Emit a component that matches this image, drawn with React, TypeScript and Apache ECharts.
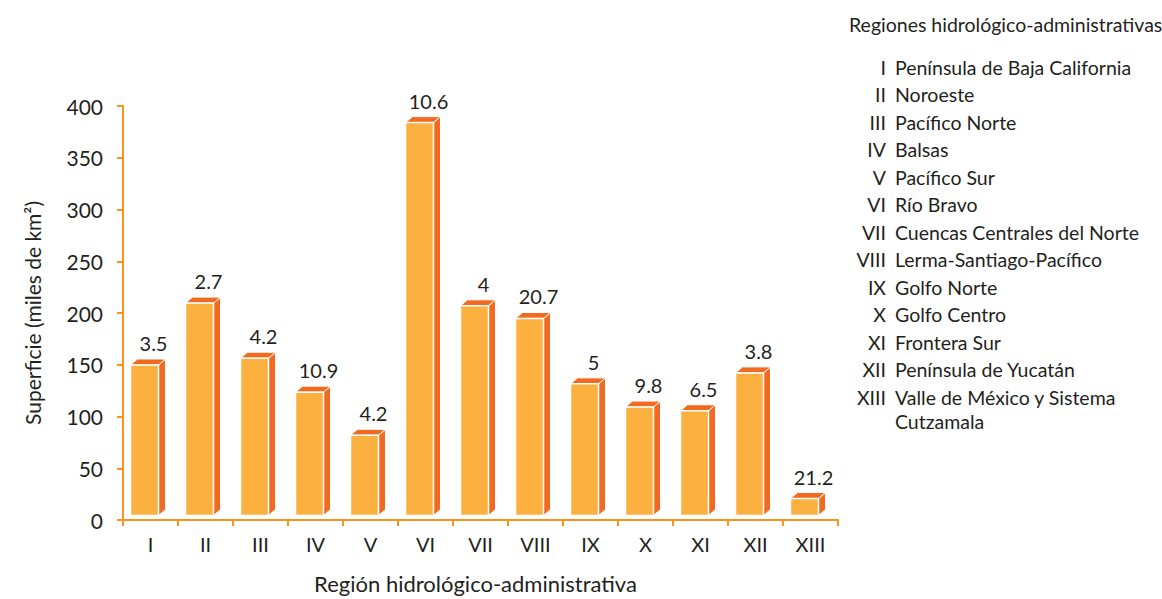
import React, { useEffect, useRef } from "react";
import * as echarts from "echarts";

const regions = ["I", "II", "III", "IV", "V", "VI", "VII", "VIII", "IX", "X", "XI", "XII", "XIII"];
const surface = [145.4, 205.2, 152.0, 119.2, 77.5, 379.6, 202.6, 190.4, 127.2, 104.8, 101.2, 137.8, 16.4];
const barLabels = ["3.5", "2.7", "4.2", "10.9", "4.2", "10.6", "4", "20.7", "5", "9.8", "6.5", "3.8", "21.2"];
const yMin = 0;
const yMax = 400;
const yStep = 50;
const legendTitle = "Regiones hidrológico-administrativas";
const legendNames = [
  "Península de Baja California",
  "Noroeste",
  "Pacífico Norte",
  "Balsas",
  "Pacífico Sur",
  "Río Bravo",
  "Cuencas Centrales del Norte",
  "Lerma-Santiago-Pacífico",
  "Golfo Norte",
  "Golfo Centro",
  "Frontera Sur",
  "Península de Yucatán",
  "Valle de México y Sistema\nCutzamala",
];

const FONT = "Lato";
const TEXT = "#231F20";
const AXIS = "#F7941D";
const FRONT = "#FBB040";
const SIDE = "#F26A21";

export default function App() {
  const ref = useRef<HTMLDivElement>(null);
  useEffect(() => {
    if (!ref.current) return;
    const chart = echarts.init(ref.current, undefined, { renderer: "svg" });

    const legendGraphics: any[] = [
      {
        type: "text",
        x: 849,
        y: 24,
        style: { text: legendTitle, font: `19.5px ${FONT}`, fill: TEXT, align: "left", verticalAlign: "middle" },
      },
    ];
    regions.forEach((r, i) => {
      const y = 67 + i * 27.5;
      legendGraphics.push({
        type: "text",
        x: 886,
        y,
        style: { text: r, font: `19.5px ${FONT}`, fill: TEXT, align: "right", verticalAlign: "middle" },
      });
      legendGraphics.push({
        type: "text",
        x: 895,
        y: y - 12,
        style: { text: legendNames[i], font: `19.5px ${FONT}`, fill: TEXT, align: "left", verticalAlign: "top", lineHeight: 24 },
      });
    });

    chart.setOption({
      animation: false,
      grid: { left: 123, right: 324, top: 106, bottom: 78, containLabel: false },
      xAxis: {
        type: "category",
        data: regions,
        name: "Región hidrológico-administrativa",
        nameLocation: "middle",
        nameGap: 52,
        nameTextStyle: { fontFamily: FONT, fontSize: 22, color: TEXT, padding: [0, 10, 0, 0] },
        axisLine: { lineStyle: { color: AXIS, width: 2 } },
        axisTick: { show: true, length: 6, lineStyle: { color: AXIS, width: 2 } },
        axisLabel: { fontFamily: FONT, fontSize: 20, color: TEXT, margin: 14 },
        splitLine: { show: false },
      },
      yAxis: {
        type: "value",
        min: yMin,
        max: yMax,
        interval: yStep,
        name: "Superficie (miles de km²)",
        nameLocation: "middle",
        nameGap: 80,
        nameTextStyle: { fontFamily: FONT, fontSize: 21, color: TEXT },
        axisLine: { show: true, lineStyle: { color: AXIS, width: 2 } },
        axisTick: { show: true, length: 6, lineStyle: { color: AXIS, width: 2 } },
        axisLabel: { fontFamily: FONT, fontSize: 21, color: TEXT, margin: 20 },
        splitLine: { show: false },
      },
      series: [
        {
          type: "custom",
          data: surface.map((v, i) => [i, v]),
          renderItem: (params: any, api: any) => {
            const i = api.value(0);
            const v = api.value(1);
            const t = api.coord([i, v]);
            const b = api.coord([i, 0]);
            const lift = 4.5;
            const cx = t[0];
            const yT = t[1] - lift;
            const yB = b[1] - lift;
            const L = cx - 20;
            const R = cx + 8;
            const dx = 7;
            const dy = 6;
            return {
              type: "group",
              children: [
                {
                  type: "polygon",
                  shape: { points: [[R, yT], [R + dx, yT - dy], [R + dx, yB - dy], [R, yB]] },
                  style: { fill: SIDE, stroke: "#fff", lineWidth: 1 },
                },
                {
                  type: "polygon",
                  shape: { points: [[L, yT], [R, yT], [R + dx, yT - dy], [L + dx, yT - dy]] },
                  style: { fill: SIDE, stroke: "#fff", lineWidth: 1 },
                },
                {
                  type: "rect",
                  shape: { x: L, y: yT, width: R - L, height: yB - yT },
                  style: { fill: FRONT, stroke: "#fff", lineWidth: 1.5 },
                },
                {
                  type: "text",
                  style: {
                    text: barLabels[params.dataIndex],
                    x: cx + 3,
                    y: yT - 22,
                    font: `20px ${FONT}`,
                    fill: TEXT,
                    align: "center",
                    verticalAlign: "middle",
                  },
                },
              ],
            };
          },
        },
      ],
      graphic: legendGraphics,
    });
    return () => chart.dispose();
  }, []);
  return (
    <div
      ref={ref}
      style={{ position: "absolute", left: 0, top: 0, width: 1162, height: 599, background: "#fff" }}
    />
  );
}
